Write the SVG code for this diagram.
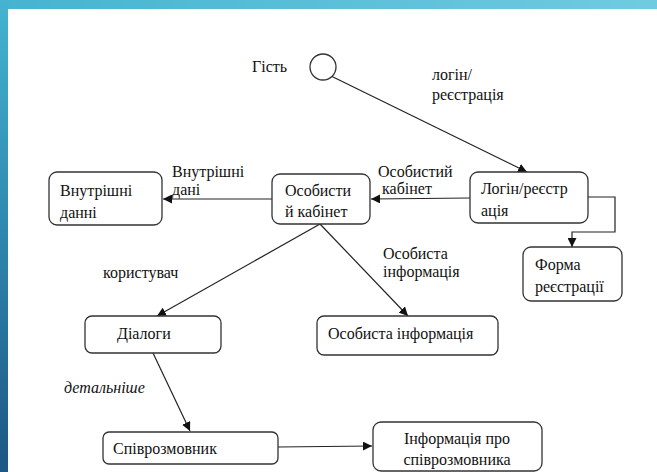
<svg xmlns="http://www.w3.org/2000/svg" width="657" height="472" viewBox="0 0 657 472">
<defs>
<linearGradient id="topband" x1="0" y1="0" x2="1" y2="0">
<stop offset="0" stop-color="#45b4d0"/>
<stop offset="1" stop-color="#70cbe0"/>
</linearGradient>
<linearGradient id="leftband" x1="0" y1="0" x2="0" y2="1">
<stop offset="0" stop-color="#45b4d0"/>
<stop offset="0.5" stop-color="#2f86ae"/>
<stop offset="1" stop-color="#1c5683"/>
</linearGradient>
<marker id="arr" viewBox="0 0 10 10" refX="10" refY="5" markerWidth="9" markerHeight="9" markerUnits="userSpaceOnUse" orient="auto">
<path d="M0,0 L10,5 L0,10 z" fill="#111"/>
</marker>
<style>
.box{fill:#fff;stroke:#333;stroke-width:1.3}
.t{font-family:'Liberation Serif','Times New Roman',Times,serif;font-size:16px;fill:#111}
.c{fill:none;stroke:#222;stroke-width:1.2}
</style>
</defs>
<rect width="657" height="472" fill="#fff"/>
<rect x="0" y="0" width="657" height="9" fill="url(#topband)"/>
<rect x="0" y="0" width="8" height="472" fill="url(#leftband)"/>

<g id="connectors">
<line class="c" x1="331" y1="76" x2="527" y2="172" marker-end="url(#arr)"/>
<line class="c" x1="470" y1="198" x2="371" y2="199" marker-end="url(#arr)"/>
<line class="c" x1="272" y1="199" x2="163" y2="199" marker-end="url(#arr)"/>
<polyline class="c" points="588,197 615,197 615,232 572,232 572,247" marker-end="url(#arr)"/>
<line class="c" x1="320" y1="224" x2="157" y2="316" marker-end="url(#arr)"/>
<line class="c" x1="320" y1="224" x2="408" y2="316" marker-end="url(#arr)"/>
<line class="c" x1="153" y1="353" x2="190" y2="431" marker-end="url(#arr)"/>
<line class="c" x1="278" y1="447" x2="372" y2="446" marker-end="url(#arr)"/>
</g>

<g id="labels">
<text class="t" x="432" y="80">логін/</text>
<text class="t" x="432" y="100">реєстрація</text>
<text class="t" x="378" y="177">Особистий</text>
<text class="t" x="382" y="194">кабінет</text>
<text class="t" x="172" y="177">Внутрішні</text>
<text class="t" x="172" y="195">дані</text>
<text class="t" x="103" y="278">користувач</text>
<text class="t" x="383" y="259">Особиста</text>
<text class="t" x="383" y="277">інформація</text>
<text class="t" x="64" y="393" font-style="italic">детальніше</text>
</g>

<g id="guest">
<circle cx="323" cy="67" r="13" fill="#fff" stroke="#333" stroke-width="1.3"/>
<text class="t" x="252" y="72">Гість</text>
</g>

<g id="login">
<rect class="box" x="470" y="172" width="118" height="51" rx="8"/>
<text class="t" x="481" y="194">Логін/реєстр</text>
<text class="t" x="481" y="216">ація</text>
</g>

<g id="cabinet">
<rect class="box" x="272" y="174" width="98" height="50" rx="8"/>
<text class="t" x="285" y="196">Особисти</text>
<text class="t" x="285" y="217">й кабінет</text>
</g>

<g id="internal">
<rect class="box" x="49" y="172" width="113" height="53" rx="8"/>
<text class="t" x="60" y="196">Внутрішні</text>
<text class="t" x="60" y="218">данні</text>
</g>

<g id="regform">
<rect class="box" x="523" y="247" width="99" height="54" rx="8"/>
<text class="t" x="535" y="270">Форма</text>
<text class="t" x="535" y="292">реєстрації</text>
</g>

<g id="dialogs">
<rect class="box" x="85" y="316" width="136" height="37" rx="7"/>
<text class="t" x="117" y="339">Діалоги</text>
</g>

<g id="personal">
<rect class="box" x="317" y="316" width="181" height="39" rx="7"/>
<text class="t" x="328" y="339">Особиста інформація</text>
</g>

<g id="interlocutor">
<rect class="box" x="103" y="432" width="175" height="32" rx="6"/>
<text class="t" x="113" y="454">Співрозмовник</text>
</g>

<g id="interlocutor-info">
<rect class="box" x="373" y="422" width="169" height="49" rx="8"/>
<text class="t" x="457" y="444" text-anchor="middle">Інформація про</text>
<text class="t" x="457" y="465" text-anchor="middle">співрозмовника</text>
</g>
</svg>
